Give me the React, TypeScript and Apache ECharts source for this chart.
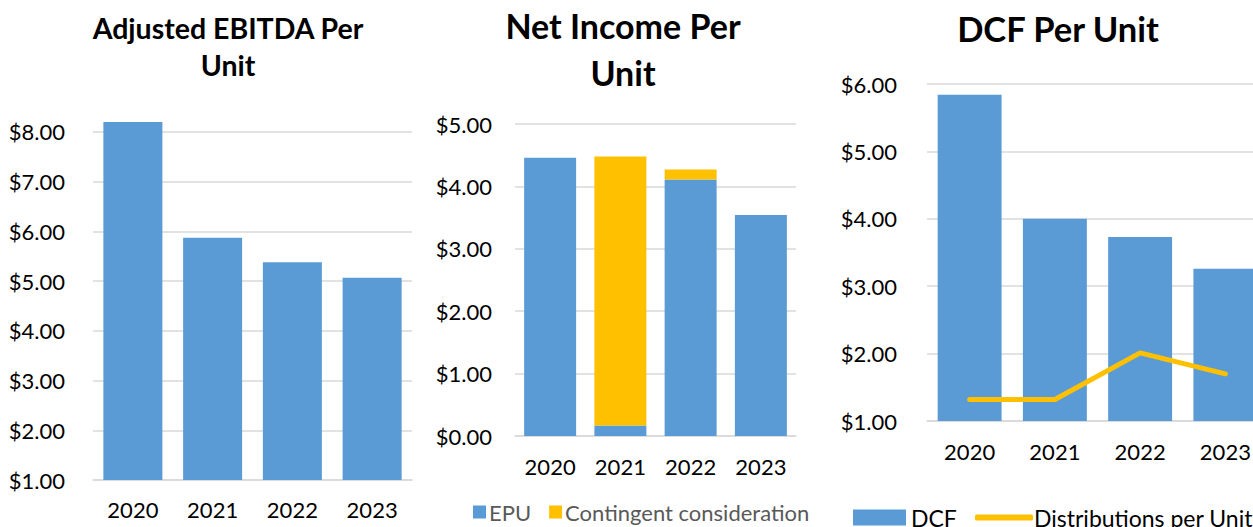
import React, { useEffect, useRef } from "react";
import * as echarts from "echarts";

const years = ["2020", "2021", "2022", "2023"];
const ebitda = [8.2, 5.87, 5.38, 5.07];
const epu = [4.46, 0.17, 4.11, 3.54];
const contingent = [0, 4.31, 0.16, 0];
const dcf = [5.84, 4.0, 3.73, 3.26];
const distributions = [1.32, 1.32, 2.01, 1.7];

const FONT = "Lato";
const BLUE = "#5B9BD5";
const YELLOW = "#FFC000";
const GRID_COLOR = "#D9D9D9";

const money = (v: number) => "$" + v.toFixed(2);

export default function App() {
  const ref = useRef<HTMLDivElement>(null);
  useEffect(() => {
    if (!ref.current) return;
    const chart = echarts.init(ref.current, undefined, { renderer: "svg" });
    const yAxisBase = (gridIndex: number, min: number, max: number, margin: number) => ({
      type: "value",
      gridIndex,
      min,
      max,
      interval: 1,
      axisLine: { show: false },
      axisTick: { show: false },
      splitLine: { showMaxLine: Number.isInteger(max), lineStyle: { color: GRID_COLOR, width: 1.5 } },
      axisLabel: {
        formatter: (v: number) => (Number.isInteger(Math.round(v * 1000) / 1000) ? money(v) : ""),
        showMaxLabel: Number.isInteger(max),
        fontFamily: FONT,
        fontSize: 22,
        color: "#000",
        margin,
      },
    });
    const xAxisBase = (gridIndex: number, margin: number) => ({
      type: "category",
      gridIndex,
      data: years,
      axisLine: { lineStyle: { color: GRID_COLOR, width: 1.5 } },
      axisTick: { show: false },
      axisLabel: { fontFamily: FONT, fontSize: 22, color: "#000", margin },
    });
    const title = (text: string, x: number, y: number, size: number) => ({
      type: "text",
      x,
      y,
      style: {
        text,
        fontFamily: FONT,
        fontWeight: "bold",
        fontSize: size,
        fill: "#000",
        textAlign: "center",
        textVerticalAlign: "middle",
      },
    });
    chart.setOption({
      animation: false,
      backgroundColor: "#fff",
      grid: [
        { left: 93, top: 122, width: 319, height: 358 },
        { left: 515, top: 124, width: 281, height: 312 },
        { left: 927, top: 84, width: 341, height: 337 },
      ],
      xAxis: [xAxisBase(0, 18), xAxisBase(1, 19), xAxisBase(2, 19)],
      yAxis: [yAxisBase(0, 1, 8.2, 28), yAxisBase(1, 0, 5, 23), yAxisBase(2, 1, 6, 30)],
      legend: [
        {
          left: 468,
          top: 496,
          icon: "rect",
          itemWidth: 13,
          itemHeight: 13,
          itemGap: 18,
          data: ["EPU", "Contingent consideration"],
          textStyle: { fontFamily: FONT, fontSize: 22, color: "#595959", padding: [0, 0, 0, -2] },
        },
        {
          left: 848,
          top: 501,
          itemWidth: 53,
          itemHeight: 16,
          data: [{ name: "DCF", icon: "rect" }],
          textStyle: { fontFamily: FONT, fontSize: 23, color: "#000" },
        },
        {
          left: 970,
          top: 501,
          itemWidth: 58,
          itemHeight: 6,
          data: [{ name: "Distributions per Unit", icon: "roundRect", itemStyle: { color: YELLOW } }],
          textStyle: { fontFamily: FONT, fontSize: 23, color: "#000", padding: [0, 0, 0, -4] },
        },
      ],
      graphic: [
        title("Adjusted EBITDA Per", 228, 28, 28.5),
        title("Unit", 228, 65, 28.5),
        title("Net Income Per", 623, 25, 34),
        title("Unit", 623, 72, 34),
        title("DCF Per Unit", 1058, 28, 34.5),
      ],
      series: [
        {
          name: "Adjusted EBITDA",
          type: "bar",
          xAxisIndex: 0,
          yAxisIndex: 0,
          data: ebitda,
          barWidth: "74%",
          itemStyle: { color: BLUE },
        },
        {
          name: "EPU",
          type: "bar",
          stack: "ni",
          xAxisIndex: 1,
          yAxisIndex: 1,
          data: epu,
          barWidth: "74%",
          itemStyle: { color: BLUE },
        },
        {
          name: "Contingent consideration",
          type: "bar",
          stack: "ni",
          xAxisIndex: 1,
          yAxisIndex: 1,
          data: contingent,
          barWidth: "74%",
          itemStyle: { color: YELLOW },
        },
        {
          name: "DCF",
          type: "bar",
          xAxisIndex: 2,
          yAxisIndex: 2,
          data: dcf,
          barWidth: "75%",
          itemStyle: { color: BLUE },
        },
        {
          name: "Distributions per Unit",
          type: "line",
          xAxisIndex: 2,
          yAxisIndex: 2,
          data: distributions,
          symbol: "none",
          lineStyle: { color: YELLOW, width: 5, cap: "round", join: "round" },
          itemStyle: { color: YELLOW },
          z: 5,
        },
      ],
    });
    return () => chart.dispose();
  }, []);
  return (
    <div
      style={{ position: "fixed", left: 0, top: 0, width: 1253, height: 527, overflow: "hidden", background: "#fff" }}
    >
      <div ref={ref} style={{ width: 1300, height: 527 }} />
    </div>
  );
}
